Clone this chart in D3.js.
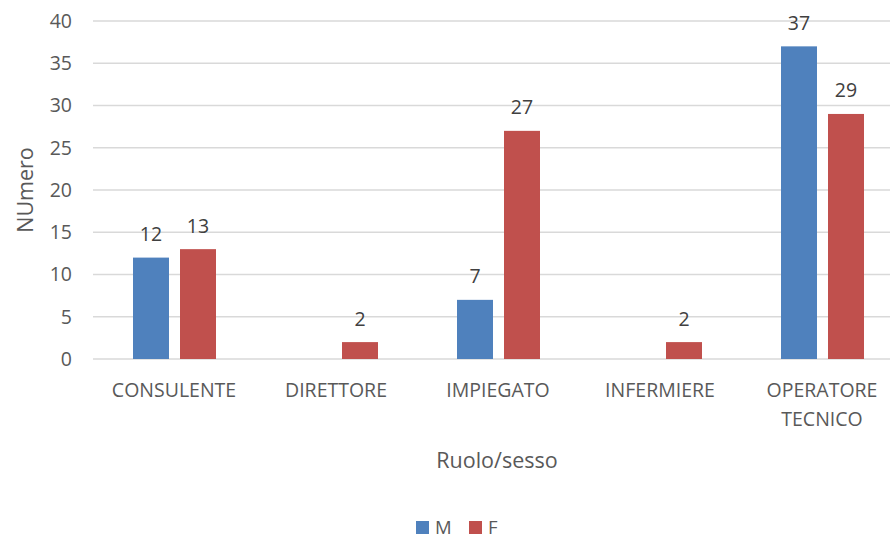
<!DOCTYPE html>
<html><head><meta charset="utf-8">
<script src="https://cdn.jsdelivr.net/npm/d3@7/dist/d3.min.js"></script>
<style>body{margin:0;background:#fff}svg{display:block}text{font-family:"Open Sans","Noto Sans",sans-serif}</style>
</head><body><svg id="c" width="890" height="539"></svg>
<script>
const categories = [["CONSULENTE"],["DIRETTORE"],["IMPIEGATO"],["INFERMIERE"],["OPERATORE","TECNICO"]];
const seriesNames = ["M","F"];
const valuesM = [12, null, 7, null, 37];
const valuesF = [13, 2, 27, 2, 29];
const yTicks = [0,5,10,15,20,25,30,35,40];
const colors = ["#4f81bd","#c0504d"];

const svg = d3.select("#c");
const pLeft = 93, pRight = 903, pTop = 21, pBottom = 359;
const x = d3.scaleBand().domain(categories.map((d,i)=>i)).range([pLeft,pRight]);
const y = d3.scaleLinear().domain([0,40]).range([pBottom,pTop]);

// gridlines
svg.append("g").selectAll("line").data(yTicks).join("line")
  .attr("x1",pLeft).attr("x2",pRight)
  .attr("y1",d=>y(d)).attr("y2",d=>y(d))
  .attr("stroke","#d9d9d9").attr("stroke-width",1.3);

// y tick labels
svg.append("g").selectAll("text").data(yTicks).join("text")
  .attr("x",72).attr("y",d=>y(d)).attr("dy","0.35em")
  .attr("text-anchor","end").attr("font-size",19.5).attr("fill","#595959")
  .text(d=>d);

const bw = 36;
const series = [valuesM, valuesF];
const offsets = [-41, 6];
series.forEach((vals,s)=>{
  const g = svg.append("g");
  vals.forEach((v,i)=>{
    if(v==null) return;
    const cx = x(i)+x.bandwidth()/2;
    g.append("rect").attr("x",cx+offsets[s]).attr("width",bw)
      .attr("y",y(v)).attr("height",y(0)-y(v)).attr("fill",colors[s]);
    g.append("text").attr("x",cx+offsets[s]+bw/2).attr("y",y(v)-16.5)
      .attr("text-anchor","middle").attr("font-size",19.5).attr("fill","#404040").text(v);
  });
});

// category labels
categories.forEach((lines,i)=>{
  const cx = x(i)+x.bandwidth()/2;
  lines.forEach((t,j)=>{
    svg.append("text").attr("x",cx).attr("y",397+j*29)
      .attr("text-anchor","middle").attr("font-size",19.5).attr("fill","#595959").text(t);
  });
});

// axis titles
svg.append("text").attr("transform","translate(33,190) rotate(-90)")
  .attr("text-anchor","middle").attr("font-size",21.5).attr("fill","#595959").text("NUmero");
svg.append("text").attr("x",497).attr("y",468)
  .attr("text-anchor","middle").attr("font-size",21.5).attr("fill","#595959").text("Ruolo/sesso");

// legend
const lx = [416, 469];
seriesNames.forEach((n,i)=>{
  svg.append("rect").attr("x",lx[i]).attr("y",521).attr("width",13).attr("height",13).attr("fill",colors[i]);
  svg.append("text").attr("x",lx[i]+19).attr("y",534).attr("font-size",18.5).attr("fill","#595959").text(n);
});
</script></body></html>
